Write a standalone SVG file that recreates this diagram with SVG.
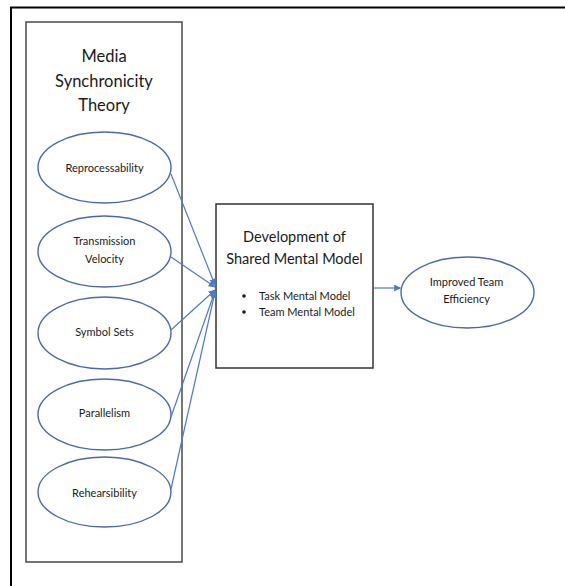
<svg xmlns="http://www.w3.org/2000/svg" width="565" height="586" viewBox="0 0 565 586">
  <style>
    .frame { fill: none; stroke: #000; stroke-width: 2; }
    .panel { fill: #fff; stroke: #555; stroke-width: 1.6; }
    .box { fill: #fff; stroke: #333; stroke-width: 1.5; }
    .oval { fill: #fff; stroke: #4a69aa; stroke-width: 1.4; }
    .link { fill: none; stroke: #4f7ac7; stroke-width: 1.2; }
    .big { font-family: Lato, "Liberation Sans", Arial, sans-serif; font-size: 16.5px; fill: #1a1a1a; text-anchor: middle; }
    .mid { font-family: Lato, "Liberation Sans", Arial, sans-serif; font-size: 14.5px; fill: #1a1a1a; text-anchor: middle; }
    .small { font-family: Lato, "Liberation Sans", Arial, sans-serif; font-size: 11px; fill: #1a1a1a; text-anchor: middle; }
    .item { font-family: Lato, "Liberation Sans", Arial, sans-serif; font-size: 11px; fill: #1a1a1a; }
  </style>
  <defs>
    <marker id="head" viewBox="0 0 10 10" refX="9" refY="5" markerWidth="7" markerHeight="7" markerUnits="userSpaceOnUse" orient="auto">
      <path d="M0,0 L10,5 L0,10 z" fill="#4f7ac7"/>
    </marker>
  </defs>

  <rect width="565" height="586" fill="#fff"/>
  <!-- page frame: left and top edges -->
  <path class="frame" d="M11,586 V7.5 H565"/>

  <g id="media-synchronicity-theory">
    <rect class="panel" x="26" y="22" width="156" height="540"/>
    <text class="big" x="104" y="62">Media</text>
    <text class="big" x="104" y="87">Synchronicity</text>
    <text class="big" x="104" y="111">Theory</text>
  </g>

  <g id="reprocessability">
    <ellipse class="oval" cx="104.5" cy="167.5" rx="66.5" ry="35.5"/>
    <text class="small" x="104.5" y="172">Reprocessability</text>
  </g>
  <g id="transmission-velocity">
    <ellipse class="oval" cx="104.5" cy="251.5" rx="66.5" ry="35.5"/>
    <text class="small" x="104.5" y="245">Transmission</text>
    <text class="small" x="104.5" y="263">Velocity</text>
  </g>
  <g id="symbol-sets">
    <ellipse class="oval" cx="104.5" cy="333" rx="66.5" ry="36"/>
    <text class="small" x="104.5" y="336">Symbol Sets</text>
  </g>
  <g id="parallelism">
    <ellipse class="oval" cx="104.5" cy="414.5" rx="66.5" ry="35.5"/>
    <text class="small" x="104.5" y="417">Parallelism</text>
  </g>
  <g id="rehearsibility">
    <ellipse class="oval" cx="104.5" cy="492" rx="66.5" ry="35"/>
    <text class="small" x="104.5" y="497">Rehearsibility</text>
  </g>

  <g id="shared-mental-model">
    <rect class="box" x="216" y="204" width="157" height="164"/>
    <text class="mid" x="294.5" y="242">Development of</text>
    <text class="mid" x="294.5" y="263.5">Shared Mental Model</text>
    <circle cx="244" cy="296" r="1.8" fill="#1a1a1a"/>
    <circle cx="244" cy="312" r="1.8" fill="#1a1a1a"/>
    <text class="item" x="259" y="299.5">Task Mental Model</text>
    <text class="item" x="259" y="315.7">Team Mental Model</text>
  </g>

  <g id="improved-team-efficiency">
    <ellipse class="oval" cx="467.5" cy="292.5" rx="66.5" ry="35.5"/>
    <text class="small" x="466.5" y="286">Improved Team</text>
    <text class="small" x="466.5" y="303">Efficiency</text>
  </g>

  <g id="connectors">
    <line class="link" x1="171" y1="174" x2="215" y2="285" marker-end="url(#head)"/>
    <line class="link" x1="171" y1="257" x2="215" y2="287" marker-end="url(#head)"/>
    <line class="link" x1="171" y1="330" x2="215" y2="290" marker-end="url(#head)"/>
    <line class="link" x1="171" y1="417" x2="215" y2="291" marker-end="url(#head)"/>
    <line class="link" x1="171" y1="489" x2="215" y2="292" marker-end="url(#head)"/>
    <line class="link" x1="373" y1="288" x2="400.5" y2="288" marker-end="url(#head)"/>
  </g>
</svg>
